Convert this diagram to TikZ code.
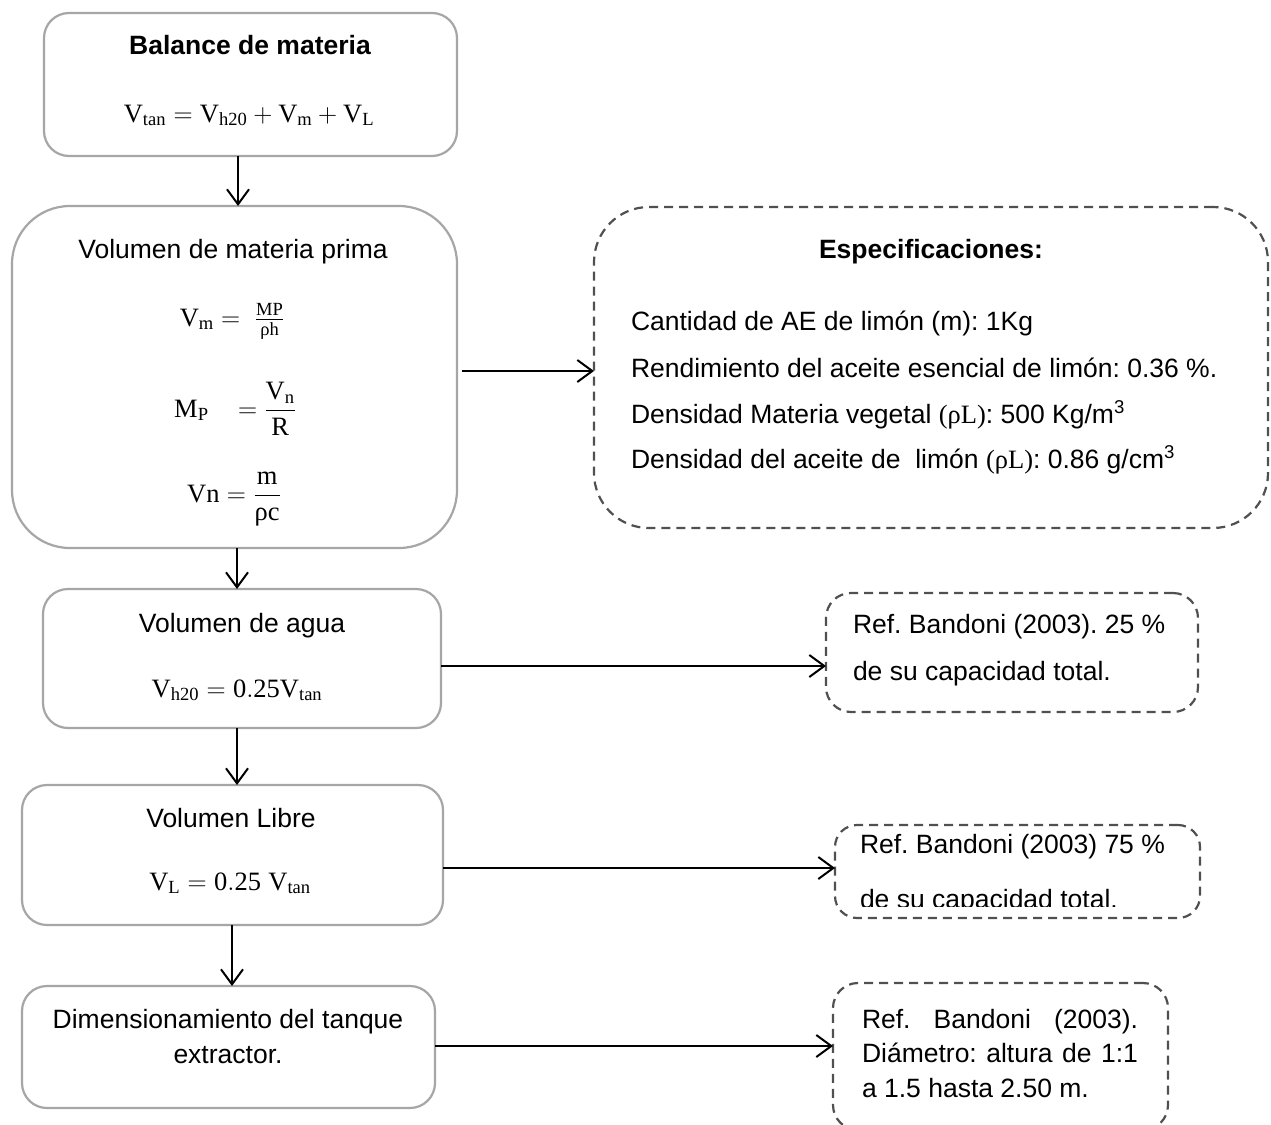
\RequirePackage{fix-cm}
\documentclass[tikz,border=0pt]{standalone}
\usepackage{amsmath}
\usepackage{fontspec}
\setmainfont{Liberation Sans}
\newfontfamily\mserif{Liberation Serif}
\setmathrm{Liberation Serif}
\usetikzlibrary{arrows.meta}
\definecolor{boxgray}{RGB}{166,166,166}
\definecolor{dashgray}{RGB}{80,80,80}
\newcommand{\fs}{\fontsize{26.5}{32}\selectfont}
\newcommand{\rh}{\text{\mserif ρ}}
\frenchspacing
\begin{document}
\begin{tikzpicture}[x=1pt,y=-1pt,
  every node/.style={font=\fs, inner sep=0pt, outer sep=0pt},
  solidbox/.style={draw=boxgray, line width=2.2pt},
  dashbox/.style={draw=dashgray, line width=2.2pt, dash pattern=on 9pt off 6pt},
  arr/.style={draw=black, line width=2pt, -{Straight Barb[length=15pt,width=22pt,line width=2pt]}},
  txt/.style={anchor=base}]
\useasboundingbox (0,0) rectangle (1271,1124);
\clip (0,0) rectangle (1271,1124);
\fill[white] (0,0) rectangle (1271,1124);

% left boxes
\node[solidbox, rounded corners=25pt, minimum width=413pt, minimum height=143pt] (b1) at (250.5,84.5) {};
\node[solidbox, rounded corners=58pt, minimum width=445pt, minimum height=342pt] (b2) at (234.5,377) {};
\node[solidbox, rounded corners=25pt, minimum width=398pt, minimum height=139pt] (b3) at (242,658.5) {};
\node[solidbox, rounded corners=25pt, minimum width=421pt, minimum height=140pt] (b4) at (232.5,855) {};
\node[solidbox, rounded corners=25pt, minimum width=413pt, minimum height=122pt] (b5) at (228.5,1047) {};

% dashed boxes
\node[dashbox, rounded corners=55pt, minimum width=674pt, minimum height=321pt] (d1) at (931,367.5) {};
\node[dashbox, rounded corners=25pt, minimum width=372pt, minimum height=119pt] (d2) at (1012,652.5) {};
\node[dashbox, rounded corners=22pt, minimum width=365pt, minimum height=93pt] (d3) at (1017.5,871.5) {};
\node[dashbox, rounded corners=25pt, minimum width=335pt, minimum height=147pt] (d4) at (1000.5,1056.5) {};

% texts left
\node[txt, font=\fs\bfseries] (t1) at (250,55) {Balance de materia};
\node[txt] (f1) at (249,122) {$\mathrm{V_{tan}} = \mathrm{V_{h20}} + \mathrm{V_m} + \mathrm{V_L}$};
\node[txt] (t2) at (233,258) {Volumen de materia prima};
\node[txt] (f2a) at (232,326) {$\mathrm{V_m} = \ \frac{\mathrm{MP}}{\rh\mathrm{h}}$};
\node[txt] (f2b) at (235,417) {$\mathrm{M_P}\ \ \ = \dfrac{\mathrm{V_n}}{\mathrm{R}}$};
\node[txt] (f2c) at (234,502) {$\mathrm{Vn} = \dfrac{\mathrm{m}}{\rh\mathrm{c}}$};
\node[txt] (t3) at (242,632) {Volumen de agua};
\node[txt] (f3) at (237,697) {$\mathrm{V_{h20}} = \mathrm{0.25V_{tan}}$};
\node[txt] (t4) at (231,827) {Volumen Libre};
\node[txt] (f4) at (230,890) {$\mathrm{V_L} = \mathrm{0.25}\ \mathrm{V_{tan}}$};
\node[txt, align=center, font=\fontsize{26.5}{35}\selectfont] (t5) at (228,1063) {Dimensionamiento del tanque\\extractor.};

% texts right
\node[txt, font=\fs\bfseries] (s0) at (931,258) {Especificaciones:};
\node[anchor=base west] (s1) at (631,330) {Cantidad de AE de limón (m): 1Kg};
\node[anchor=base west] (s2) at (631,377) {Rendimiento del aceite esencial de limón: 0.36 \%.};
\node[anchor=base west] (s3) at (631,423) {Densidad Materia vegetal {\mserif(ρL)}: 500 Kg/m\textsuperscript{3}};
\node[anchor=base west] (s4) at (631,468) {Densidad del aceite de\ \ limón {\mserif(ρL)}: 0.86 g/cm\textsuperscript{3}};

\node[anchor=base west] (r1) at (853,633) {Ref. Bandoni (2003). 25 \%};
\node[anchor=base west] (r2) at (853,680) {de su capacidad total.};

\node[anchor=base west] (r3) at (860,853) {Ref. Bandoni (2003) 75 \%};
\begin{scope}
  \clip (835,870) rectangle (1200,906);
  \node[anchor=base west] (r4) at (860,908) {de su capacidad total.};
\end{scope}

\node[anchor=base west] (r5) at (862,1028) {\makebox[276pt][s]{Ref. Bandoni (2003).}};
\node[anchor=base west] (r6) at (862,1062) {\makebox[276pt][s]{Diámetro: altura de 1:1}};
\node[anchor=base west] (r7) at (862,1097) {a 1.5 hasta 2.50 m.};

% connectors
\coordinate (v1) at (238,0);
\coordinate (v2) at (237,0);
\coordinate (v4) at (232,0);
\draw[arr] (b1.south -| v1) -- (b2.north -| v1);
\draw[arr] (b2.south -| v2) -- (b3.north -| v2);
\draw[arr] (b3.south -| v2) -- (b4.north -| v2);
\draw[arr] (b4.south -| v4) -- (b5.north -| v4);

\coordinate (h1) at (0,371);
\coordinate (h2) at (0,666);
\coordinate (h3) at (0,868);
\coordinate (h4) at (0,1046);
\draw[arr] ([xshift=5pt]b2.east |- h1) -- (d1.west |- h1);
\draw[arr] (b3.east |- h2) -- (d2.west |- h2);
\draw[arr] (b4.east |- h3) -- (d3.west |- h3);
\draw[arr] (b5.east |- h4) -- (d4.west |- h4);
\end{tikzpicture}
\end{document}
